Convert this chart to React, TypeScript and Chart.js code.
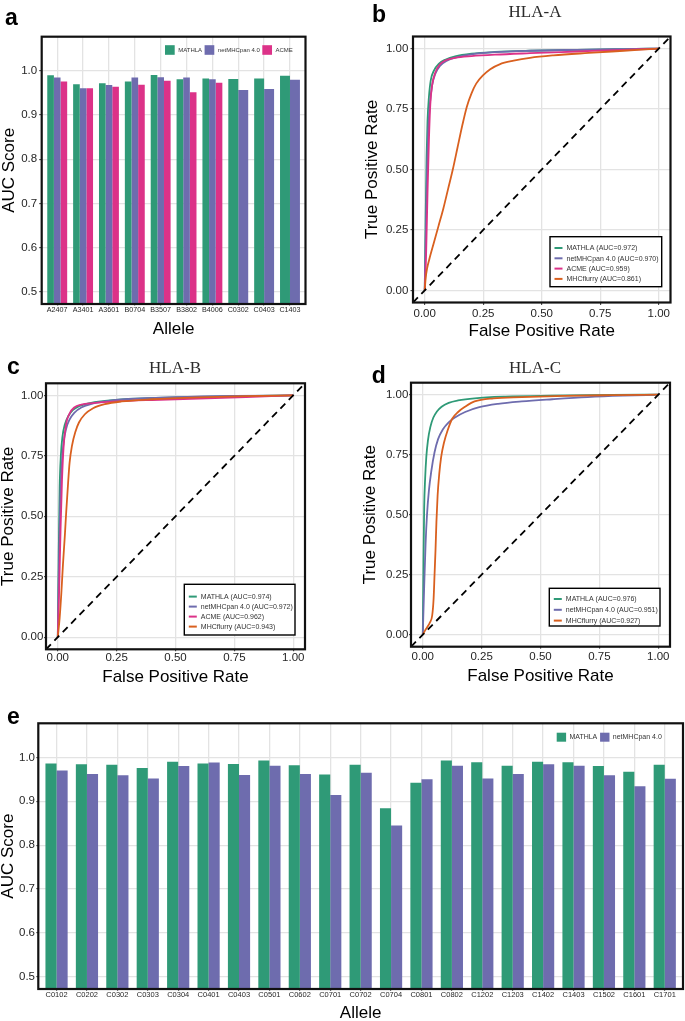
import React, { useEffect, useRef } from "react";
import { Chart, registerables } from "chart.js";

Chart.register(...registerables);

const SANS = "'Liberation Sans', Arial, Helvetica, sans-serif";
const SERIF = "'Liberation Serif', 'Times New Roman', serif";
Chart.defaults.font.family = SANS;

const GREEN = "#2f9a77";
const PURPLE = "#6e6cae";
const PINK = "#dc3288";
const ORANGE = "#d9601f";

// ---------- panel a : AUC per allele (3 methods) ----------
const allelesA = ["A2407", "A3401", "A3601", "B0704", "B3507", "B3802", "B4006", "C0302", "C0403", "C1403"];
const mathlaA = [0.990, 0.970, 0.972, 0.976, 0.991, 0.981, 0.983, 0.982, 0.983, 0.989];
const netmhcA = [0.985, 0.961, 0.968, 0.985, 0.986, 0.985, 0.981, 0.957, 0.959, 0.980];
const acmeA = [0.976, 0.961, 0.964, 0.969, 0.978, 0.952, 0.973, null, null, null];

// ---------- panel e : AUC per HLA-C allele ----------
const allelesE = ["C0102", "C0202", "C0302", "C0303", "C0304", "C0401", "C0403", "C0501", "C0602", "C0701", "C0702", "C0704", "C0801", "C0802", "C1202", "C1203", "C1402", "C1403", "C1502", "C1601", "C1701"];
const mathlaE = [0.986, 0.984, 0.983, 0.976, 0.990, 0.986, 0.985, 0.993, 0.982, 0.961, 0.983, 0.884, 0.942, 0.993, 0.989, 0.981, 0.990, 0.989, 0.980, 0.967, 0.983];
const netmhcE = [0.970, 0.962, 0.959, 0.952, 0.980, 0.988, 0.960, 0.981, 0.962, 0.914, 0.965, 0.845, 0.950, 0.981, 0.952, 0.962, 0.984, 0.981, 0.959, 0.934, 0.951];

const barYTicks = [0.5, 0.6, 0.7, 0.8, 0.9, 1.0];
const rocTicks = [0, 0.25, 0.5, 0.75, 1];

// ---------- ROC curves, [FPR, TPR] ----------
const rocA_MATHLA = [[0, 0], [0.004, 0.3], [0.008, 0.55], [0.012, 0.7], [0.018, 0.8], [0.026, 0.87], [0.04, 0.91], [0.06, 0.937], [0.09, 0.955], [0.13, 0.968], [0.2, 0.979], [0.3, 0.986], [0.45, 0.991], [0.65, 0.995], [0.85, 0.998], [1, 1]];
const rocA_netMHCpan = [[0, 0], [0.005, 0.25], [0.01, 0.5], [0.015, 0.66], [0.022, 0.77], [0.032, 0.85], [0.045, 0.895], [0.065, 0.928], [0.095, 0.95], [0.14, 0.965], [0.2, 0.976], [0.3, 0.985], [0.45, 0.991], [0.65, 0.995], [0.85, 0.998], [1, 1]];
const rocA_ACME = [[0, 0], [0.006, 0.15], [0.012, 0.4], [0.018, 0.62], [0.024, 0.77], [0.032, 0.85], [0.045, 0.9], [0.065, 0.935], [0.09, 0.952], [0.13, 0.962], [0.2, 0.969], [0.3, 0.975], [0.45, 0.981], [0.65, 0.988], [0.85, 0.995], [1, 1]];
const rocA_MHCflurry = [[0, 0], [0.004, 0.05], [0.01, 0.09], [0.02, 0.13], [0.04, 0.2], [0.06, 0.27], [0.08, 0.34], [0.1, 0.42], [0.12, 0.5], [0.14, 0.59], [0.16, 0.68], [0.18, 0.76], [0.2, 0.815], [0.22, 0.855], [0.25, 0.89], [0.28, 0.915], [0.32, 0.935], [0.38, 0.95], [0.45, 0.962], [0.55, 0.972], [0.7, 0.982], [0.85, 0.991], [1, 1]];

const rocB_MATHLA = [[0, 0], [0.004, 0.35], [0.008, 0.62], [0.013, 0.75], [0.02, 0.83], [0.03, 0.88], [0.045, 0.915], [0.065, 0.94], [0.09, 0.955], [0.13, 0.967], [0.2, 0.977], [0.3, 0.985], [0.5, 0.992], [0.75, 0.997], [1, 1]];
const rocB_netMHCpan = [[0, 0], [0.005, 0.3], [0.01, 0.55], [0.016, 0.7], [0.024, 0.8], [0.035, 0.86], [0.05, 0.9], [0.07, 0.928], [0.1, 0.95], [0.14, 0.964], [0.2, 0.975], [0.3, 0.985], [0.5, 0.993], [0.75, 0.998], [1, 1]];
const rocB_ACME = [[0, 0], [0.006, 0.2], [0.012, 0.45], [0.018, 0.65], [0.025, 0.79], [0.035, 0.88], [0.05, 0.925], [0.07, 0.95], [0.1, 0.962], [0.15, 0.968], [0.25, 0.975], [0.4, 0.981], [0.6, 0.987], [0.8, 0.993], [1, 1]];
const rocB_MHCflurry = [[0, 0], [0.008, 0.08], [0.015, 0.18], [0.022, 0.3], [0.03, 0.42], [0.036, 0.52], [0.044, 0.64], [0.05, 0.72], [0.06, 0.79], [0.075, 0.85], [0.09, 0.888], [0.115, 0.922], [0.15, 0.947], [0.2, 0.964], [0.27, 0.975], [0.4, 0.984], [0.6, 0.992], [0.8, 0.997], [1, 1]];

const rocC_MATHLA = [[0, 0], [0.003, 0.3], [0.006, 0.53], [0.01, 0.65], [0.015, 0.74], [0.022, 0.81], [0.032, 0.865], [0.045, 0.905], [0.06, 0.93], [0.08, 0.95], [0.11, 0.966], [0.15, 0.976], [0.22, 0.985], [0.35, 0.992], [0.55, 0.996], [0.8, 0.999], [1, 1]];
const rocC_netMHCpan = [[0, 0], [0.006, 0.2], [0.012, 0.38], [0.018, 0.5], [0.026, 0.6], [0.036, 0.68], [0.05, 0.76], [0.065, 0.815], [0.085, 0.855], [0.11, 0.885], [0.14, 0.907], [0.18, 0.928], [0.24, 0.948], [0.32, 0.962], [0.42, 0.972], [0.55, 0.981], [0.7, 0.99], [0.85, 0.996], [1, 1]];
const rocC_MHCflurry = [[0, 0], [0.01, 0.018], [0.02, 0.033], [0.03, 0.05], [0.04, 0.08], [0.046, 0.15], [0.05, 0.25], [0.054, 0.35], [0.058, 0.47], [0.063, 0.58], [0.07, 0.67], [0.078, 0.74], [0.09, 0.8], [0.105, 0.85], [0.125, 0.9], [0.15, 0.928], [0.18, 0.95], [0.22, 0.972], [0.3, 0.985], [0.42, 0.99], [0.6, 0.995], [0.8, 0.998], [1, 1]];

const methods = ["MATHLA", "netMHCpan 4.0", "ACME", "MHCflurry"];
const aucHLA_A = [0.972, 0.970, 0.959, 0.861];
const aucHLA_B = [0.974, 0.972, 0.962, 0.943];
const aucHLA_C = [0.976, 0.951, 0.927];

// ---------- layout helpers ----------
type Lay = {
  ox: number; oy: number; w: number; h: number;
  L: number; T: number; R: number; B: number;
  yTitleX: number; xTitleY: number;
  yTickLen: number; yTickPad: number; xTickLen: number; xTickPad: number;
  yTickFont: number; xTickFont: number;
};

const layA: Lay = { ox: 0, oy: 0, w: 340, h: 342, L: 41.7, T: 36.7, R: 305.5, B: 304, yTitleX: 9, xTitleY: 329.2, yTickLen: 2.5, yTickPad: 2, xTickLen: 1.5, xTickPad: 0, yTickFont: 11.5, xTickFont: 7.2 };
const layB: Lay = { ox: 340, oy: 0, w: 345, h: 343, L: 413, T: 36.5, R: 670.5, B: 302.5, yTitleX: 372.7, xTitleY: 331.2, yTickLen: 2.5, yTickPad: 2.2, xTickLen: 2.5, xTickPad: 2, yTickFont: 11.5, xTickFont: 11.5 };
const layC: Lay = { ox: 0, oy: 340, w: 340, h: 350, L: 46, T: 383.3, R: 305, B: 649.3, yTitleX: 8, xTitleY: 677.5, yTickLen: 2, yTickPad: 0.7, xTickLen: 2, xTickPad: 0, yTickFont: 11.5, xTickFont: 11.5 };
const layD: Lay = { ox: 340, oy: 340, w: 345, h: 350, L: 411, T: 382.7, R: 670, B: 646.7, yTitleX: 370.3, xTitleY: 676.7, yTickLen: 2, yTickPad: 0.7, xTickLen: 2, xTickPad: 0.8, yTickFont: 11.5, xTickFont: 11.5 };
const layE: Lay = { ox: 0, oy: 700, w: 685, h: 324, L: 38.3, T: 723.3, R: 683, B: 989, yTitleX: 8.3, xTitleY: 1013, yTickLen: 2, yTickPad: 1.3, xTickLen: 1.8, xTickPad: 0, yTickFont: 11.5, xTickFont: 7.5 };

const GRID = "#e3e3e3";
const TICKTXT = "#262626";

function axes(lay: Lay, xTitle: string, yTitle: string, x: any, y: any) {
  return {
    x: {
      type: "linear",
      offset: false,
      bounds: "data",
      ...x,
      grid: { color: GRID, lineWidth: 1.3, offset: false, drawTicks: true, tickLength: lay.xTickLen, tickColor: "#333", tickWidth: 1 },
      border: { display: false },
      ticks: { ...x.ticks, padding: lay.xTickPad, color: TICKTXT, font: { family: SANS, size: lay.xTickFont }, maxRotation: 0, minRotation: 0, autoSkip: false },
      title: { display: true, text: xTitle, color: "#000", font: { family: SANS, size: 17 }, padding: { top: 0, bottom: lay.oy + lay.h - lay.xTitleY - 10.2 } },
      afterFit: (s: any) => { s.height = lay.oy + lay.h - lay.B; },
    },
    y: {
      type: "linear",
      beginAtZero: false,
      bounds: "data",
      ...y,
      grid: { color: GRID, lineWidth: 1.3, drawTicks: true, tickLength: lay.yTickLen, tickColor: "#333", tickWidth: 1 },
      border: { display: false },
      ticks: { ...y.ticks, padding: lay.yTickPad, color: TICKTXT, font: { family: SANS, size: lay.yTickFont } },
      title: { display: true, text: yTitle, color: "#000", font: { family: SANS, size: 17 }, padding: { top: lay.yTitleX - lay.ox - 10.2, bottom: 0 } },
      afterFit: (s: any) => { s.width = lay.L - lay.ox; },
    },
  };
}

type Txt = { t: string; x: number; y: number; font: string; color?: string; align?: CanvasTextAlign };

function decor(lay: Lay, texts: Txt[], legend?: (ctx: CanvasRenderingContext2D) => void) {
  return {
    id: "decor",
    afterDatasetsDraw(chart: any) {
      const { ctx, chartArea: a } = chart;
      ctx.save();
      ctx.strokeStyle = "#111";
      ctx.lineWidth = 2.2;
      ctx.strokeRect(a.left, a.top, a.right - a.left, a.bottom - a.top);
      if (legend) legend(ctx);
      ctx.restore();
    },
    afterDraw(chart: any) {
      const ctx = chart.ctx as CanvasRenderingContext2D;
      ctx.save();
      for (const t of texts) {
        ctx.font = t.font;
        ctx.fillStyle = t.color || "#000";
        ctx.textAlign = t.align || "left";
        ctx.textBaseline = "alphabetic";
        ctx.fillText(t.t, t.x - lay.ox, t.y - lay.oy);
      }
      ctx.restore();
    },
  };
}

function keyLegend(lay: Lay, items: { label: string; color: string }[], x0: number, keyTop: number, kw: number, kh: number, fs: number, g1: number, g2: number) {
  return (ctx: CanvasRenderingContext2D) => {
    let x = x0 - lay.ox;
    const top = keyTop - lay.oy;
    ctx.font = `${fs}px ${SANS}`;
    ctx.textBaseline = "middle";
    ctx.textAlign = "left";
    for (const it of items) {
      ctx.fillStyle = it.color;
      ctx.fillRect(x, top, kw, kh);
      x += kw + g1;
      ctx.fillStyle = "#333";
      ctx.fillText(it.label, x, top + kh / 2 + 0.3);
      x += ctx.measureText(it.label).width + g2;
    }
  };
}

function lineLegend(lay: Lay, items: { label: string; color: string }[], bx: number, by: number, bw: number, bh: number, row0: number, step: number) {
  return (ctx: CanvasRenderingContext2D) => {
    const x = bx - lay.ox, y = by - lay.oy;
    ctx.fillStyle = "#fff";
    ctx.fillRect(x, y, bw, bh);
    ctx.strokeStyle = "#000";
    ctx.lineWidth = 1.4;
    ctx.strokeRect(x, y, bw, bh);
    ctx.font = `7px ${SANS}`;
    ctx.textBaseline = "middle";
    ctx.textAlign = "left";
    items.forEach((it, i) => {
      const ry = row0 - lay.oy + i * step;
      ctx.strokeStyle = it.color;
      ctx.lineWidth = 2;
      ctx.beginPath();
      ctx.moveTo(x + 4.5, ry);
      ctx.lineTo(x + 12.5, ry);
      ctx.stroke();
      ctx.fillStyle = "#333";
      ctx.fillText(it.label, x + 16.5, ry + 0.3);
    });
  };
}

const letterFont = `bold 23px ${SANS}`;
const titleFont = `17px ${SERIF}`;

// ---------- bar panels ----------
function barConfig(lay: Lay, labels: string[], series: { name: string; color: string; data: (number | null)[] }[], catPct: number, legendFn: any, texts: Txt[]) {
  const n = labels.length;
  return {
    type: "bar",
    data: {
      datasets: series.map((s) => ({
        label: s.name,
        data: s.data.map((v, i) => ({ x: i, y: v })),
        backgroundColor: s.color,
        borderWidth: 0,
        categoryPercentage: catPct,
        barPercentage: 1,
        skipNull: true,
      })),
    },
    options: {
      responsive: false,
      animation: false,
      events: [],
      layout: { padding: { left: 0, top: lay.T - lay.oy, right: lay.ox + lay.w - lay.R, bottom: 0 } },
      plugins: { legend: { display: false }, tooltip: { enabled: false } },
      scales: axes(
        lay,
        "Allele",
        "AUC Score",
        {
          min: -0.6,
          max: n - 1 + 0.6,
          afterBuildTicks: (s: any) => { s.ticks = labels.map((_, i) => ({ value: i })); },
          ticks: { callback: (v: any) => labels[Math.round(Number(v))] ?? "" },
        },
        {
          min: 0.4725,
          max: 1.0775,
          afterBuildTicks: (s: any) => { s.ticks = barYTicks.map((v) => ({ value: v })); },
          ticks: { callback: (v: any) => Number(v).toFixed(1) },
        }
      ),
    },
    plugins: [decor(lay, texts, legendFn)],
  };
}

// ---------- ROC panels ----------
function rocConfig(lay: Lay, curves: { name: string; color: string; pts: number[][] }[], legendFn: any, texts: Txt[]) {
  const n = curves.length;
  return {
    type: "line",
    data: {
      datasets: [
        ...curves.map((c, i) => ({
          label: c.name,
          data: c.pts.map((p) => ({ x: p[0], y: p[1] })),
          borderColor: c.color,
          borderWidth: 1.8,
          pointRadius: 0,
          fill: false,
          cubicInterpolationMode: "monotone",
          order: n - i,
        })),
        {
          label: "diag",
          data: [{ x: -0.05, y: -0.05 }, { x: 1.05, y: 1.05 }],
          borderColor: "#000",
          borderWidth: 1.8,
          borderDash: [7, 5],
          pointRadius: 0,
          fill: false,
          tension: 0,
          order: 0,
        },
      ],
    },
    options: {
      responsive: false,
      animation: false,
      events: [],
      layout: { padding: { left: 0, top: lay.T - lay.oy, right: lay.ox + lay.w - lay.R, bottom: 0 } },
      plugins: { legend: { display: false }, tooltip: { enabled: false } },
      scales: axes(
        lay,
        "False Positive Rate",
        "True Positive Rate",
        {
          min: -0.05,
          max: 1.05,
          afterBuildTicks: (s: any) => { s.ticks = rocTicks.map((v) => ({ value: v })); },
          ticks: { callback: (v: any) => Number(v).toFixed(2) },
        },
        {
          min: -0.05,
          max: 1.05,
          afterBuildTicks: (s: any) => { s.ticks = rocTicks.map((v) => ({ value: v })); },
          ticks: { callback: (v: any) => Number(v).toFixed(2) },
        }
      ),
    },
    plugins: [decor(lay, texts, legendFn)],
  };
}

const aucLabel = (name: string, auc: number) => `${name} (AUC=${auc.toFixed(3)})`;

// ---------- chart builders ----------
const makeA = () =>
  barConfig(
    layA,
    allelesA,
    [
      { name: methods[0], color: GREEN, data: mathlaA },
      { name: methods[1], color: PURPLE, data: netmhcA },
      { name: methods[2], color: PINK, data: acmeA },
    ],
    0.77,
    keyLegend(layA, [{ label: methods[0], color: GREEN }, { label: methods[1], color: PURPLE }, { label: methods[2], color: PINK }], 165, 45.2, 9.7, 9.6, 6, 3.5, 2.5),
    [{ t: "a", x: 5, y: 25, font: letterFont }]
  );

const curvesB = [
  { name: methods[0], color: GREEN, pts: rocA_MATHLA },
  { name: methods[1], color: PURPLE, pts: rocA_netMHCpan },
  { name: methods[2], color: PINK, pts: rocA_ACME },
  { name: methods[3], color: ORANGE, pts: rocA_MHCflurry },
];
const makeB = () =>
  rocConfig(
    layB,
    curvesB,
    lineLegend(layB, curvesB.map((c, i) => ({ label: aucLabel(c.name, aucHLA_A[i]), color: c.color })), 550, 236.7, 111.7, 50, 248, 10.3),
    [
      { t: "b", x: 372, y: 21.7, font: letterFont },
      { t: "HLA-A", x: 535, y: 16.7, font: titleFont, color: "#2b2b2b", align: "center" },
    ]
  );

const curvesC = [
  { name: methods[0], color: GREEN, pts: rocB_MATHLA },
  { name: methods[1], color: PURPLE, pts: rocB_netMHCpan },
  { name: methods[2], color: PINK, pts: rocB_ACME },
  { name: methods[3], color: ORANGE, pts: rocB_MHCflurry },
];
const makeC = () =>
  rocConfig(
    layC,
    curvesC,
    lineLegend(layC, curvesC.map((c, i) => ({ label: aucLabel(c.name, aucHLA_B[i]), color: c.color })), 184.3, 584.3, 110.7, 50.7, 596.6, 10),
    [
      { t: "c", x: 7, y: 374, font: letterFont },
      { t: "HLA-B", x: 175, y: 373.3, font: titleFont, color: "#2b2b2b", align: "center" },
    ]
  );

const curvesD = [
  { name: methods[0], color: GREEN, pts: rocC_MATHLA },
  { name: methods[1], color: PURPLE, pts: rocC_netMHCpan },
  { name: methods[3], color: ORANGE, pts: rocC_MHCflurry },
];
const makeD = () =>
  rocConfig(
    layD,
    curvesD,
    lineLegend(layD, curvesD.map((c, i) => ({ label: aucLabel(c.name, aucHLA_C[i]), color: c.color })), 549.3, 588.3, 110.7, 37.7, 599, 10.8),
    [
      { t: "d", x: 371.7, y: 383.3, font: letterFont },
      { t: "HLA-C", x: 535, y: 373.3, font: titleFont, color: "#2b2b2b", align: "center" },
    ]
  );

const makeE = () =>
  barConfig(
    layE,
    allelesE,
    [
      { name: methods[0], color: GREEN, data: mathlaE },
      { name: methods[1], color: PURPLE, data: netmhcE },
    ],
    0.73,
    keyLegend(layE, [{ label: methods[0], color: GREEN }, { label: methods[1], color: PURPLE }], 556.7, 732.7, 9.4, 9, 7, 3.3, 2.8),
    [{ t: "e", x: 7, y: 724, font: letterFont }]
  );

function ChartCanvas({ lay, make }: { lay: Lay; make: () => any }) {
  const ref = useRef<HTMLCanvasElement | null>(null);
  useEffect(() => {
    if (!ref.current) return;
    const chart = new Chart(ref.current, make());
    return () => chart.destroy();
  }, []);
  return (
    <canvas
      ref={ref}
      width={lay.w}
      height={lay.h}
      style={{ position: "absolute", left: lay.ox, top: lay.oy, width: lay.w, height: lay.h, display: "block" }}
    />
  );
}

export default function App() {
  return (
    <div style={{ position: "absolute", left: 0, top: 0, width: 685, height: 1021, overflow: "hidden", background: "#fff" }}>
      <ChartCanvas lay={layA} make={makeA} />
      <ChartCanvas lay={layB} make={makeB} />
      <ChartCanvas lay={layC} make={makeC} />
      <ChartCanvas lay={layD} make={makeD} />
      <ChartCanvas lay={layE} make={makeE} />
    </div>
  );
}
